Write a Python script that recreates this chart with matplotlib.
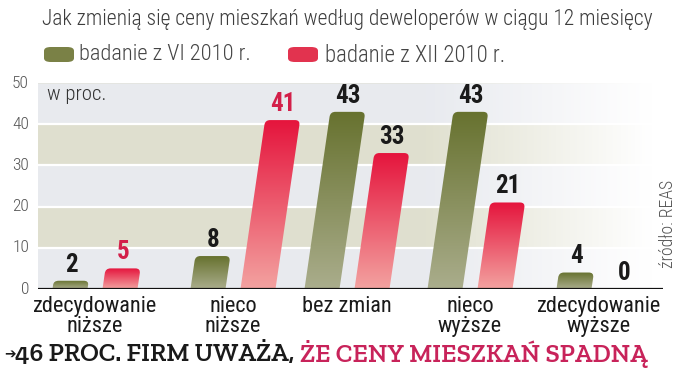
import numpy as np
import matplotlib
matplotlib.use("Agg")
import matplotlib.pyplot as plt
from matplotlib.path import Path
from matplotlib.patches import PathPatch, FancyBboxPatch

# ---------------- data ----------------
categories = ["zdecydowanie\nniższe", "nieco\nniższe", "bez zmian", "nieco\nwyższe", "zdecydowanie\nwyższe"]
series_names = ["badanie z VI 2010 r.", "badanie z XII 2010 r."]
values_jun = [2, 8, 43, 43, 4]
values_dec = [5, 41, 33, 21, 0]
yticks = [0, 10, 20, 30, 40, 50]
title = "Jak zmienią się ceny mieszkań według deweloperów w ciągu 12 miesięcy"
unit_label = "w proc."
source = "źródło: REAS"
foot_black = "46 PROC. FIRM UWAŻA, "
foot_red = "ŻE CENY MIESZKAŃ SPADNĄ"

COND = ["Roboto Condensed", "DejaVu Sans"]
SLAB = ["Zilla Slab", "DejaVu Serif"]

W, H = 686, 381
fig = plt.figure(figsize=(W / 100, H / 100), dpi=100)
fig.patch.set_facecolor("white")
renderer = fig.canvas.get_renderer()

def fx(px):
    return px / W

def fy(py):
    return 1 - py / H

def fit_width(t, target, vertical=False):
    bb = t.get_window_extent(renderer=renderer)
    cur = bb.height if vertical else bb.width
    t.set_fontsize(t.get_fontsize() * target / cur)

ax_l, ax_r, ax_t, ax_b = 38, 663, 83, 289
ax = fig.add_axes([fx(ax_l), fy(ax_b), fx(ax_r - ax_l), (ax_b - ax_t) / H])
XMAX = ax_r - ax_l
ax.set_xlim(0, XMAX)
ax.set_ylim(0, 50)
for s in ax.spines.values():
    s.set_visible(False)
ax.set_xticks([])
ax.set_yticks([])

# background bands fading to white on the right
blue = np.array([0.910, 0.918, 0.937])
olive = np.array([0.878, 0.878, 0.812])
ny, nx = 500, 300
yy = np.linspace(50, 0, ny)
band = (np.floor(yy / 10).astype(int)) % 2
xx = np.linspace(0, 1, nx)
fade = np.clip((xx - 0.62) / 0.36, 0, 1)[None, :, None]
base = np.where(band[:, None, None] == 1, olive, blue)
base = np.broadcast_to(base, (ny, nx, 3))
img = base * (1 - fade) + fade * 1.0
ax.imshow(img, extent=[0, XMAX, 0, 50], aspect="auto", zorder=0, interpolation="bilinear")
for t in yticks[1:-1]:
    ax.axhline(t, color="white", lw=1.6, zorder=1)
ax.axhline(0, color="#111111", lw=1.6, zorder=5)

# bars
px_per_unit = (ax_b - ax_t) / 50.0
group_pos = [57, 195, 309, 432, 561]
offset = 25
bw = 35
slant = 0.6
rad = 5

def bar_path(xc, v):
    h = v
    s = slant * v
    x0, x1 = xc - bw / 2, xc + bw / 2
    r_x = rad
    r_y = min(rad / px_per_unit, h * 0.5)
    verts = [(x0, 0), (x1, 0), (x1 + s * (1 - r_y / h), h - r_y), (x1 + s, h), (x1 + s - r_x, h),
             (x0 + s + r_x, h), (x0 + s, h), (x0 + s * (1 - r_y / h), h - r_y), (x0, 0)]
    codes = [Path.MOVETO, Path.LINETO, Path.LINETO, Path.CURVE3, Path.CURVE3,
             Path.LINETO, Path.CURVE3, Path.CURVE3, Path.CLOSEPOLY]
    return Path(verts, codes)

def grad(top, bottom):
    top = np.array(matplotlib.colors.to_rgb(top))
    bottom = np.array(matplotlib.colors.to_rgb(bottom))
    t = np.linspace(0, 1, 100)[:, None]
    return (top * (1 - t) + bottom * t)[:, None, :]

green_g = grad("#67722f", "#aaad8c")
red_g = grad("#e5153d", "#f3a2a0")

dec_label_colors = ["#d31f49", "#d31f49", "#1a1a1a", "#1a1a1a", "#1a1a1a"]
for i, g in enumerate(group_pos):
    for vals, dx, gg, lc in ((values_jun, -offset, green_g, "#1a1a1a"),
                             (values_dec, offset, red_g, dec_label_colors[i])):
        v = vals[i]
        xc = g + dx
        if v > 0:
            p = bar_path(xc, v)
            patch = PathPatch(p, facecolor="none", edgecolor="none", zorder=3)
            ax.add_patch(patch)
            im = ax.imshow(gg, extent=[xc - bw / 2 - 1, xc + bw / 2 + slant * v + 1, 0, v],
                           aspect="auto", zorder=3, interpolation="bilinear")
            im.set_clip_path(patch)
        ax.text(xc + slant * v, v + 1.0, str(v), ha="center", va="bottom", color=lc, zorder=6,
                family=COND, fontweight="bold", fontsize=18)

ax.set_xlim(0, XMAX)
ax.set_ylim(0, 50)

# y tick labels
for t in yticks:
    fig.text(fx(29), fy(ax_b - t * px_per_unit), str(t), ha="right", va="center",
             fontsize=12.5, color="#555555", family=COND, fontweight="light")

ax.text(9, 47.2, unit_label, ha="left", va="center", fontsize=15, color="#333333",
        family=COND, fontweight="light", zorder=6)

# category labels
for g, c in zip(group_pos, categories):
    fig.text(fx(ax_l + g), fy(296), c, ha="center", va="top", fontsize=16, color="#1a1a1a",
             family=COND, linespacing=0.95)

# title
tt = fig.text(fx(42), fy(19), title, ha="left", va="center", fontsize=15, color="#3c3c3c",
              family=COND, fontweight="light")
fit_width(tt, 613)

# legend
leg = [(44, "#7a8146", series_names[0], 79, 172), (288, "#e2334f", series_names[1], 325, 181)]
for x0, col, lab, tx, tw in leg:
    fig.patches.append(FancyBboxPatch((fx(x0), fy(62)), fx(30), 15 / H,
                                      boxstyle="round,pad=0,rounding_size=0.01",
                                      transform=fig.transFigure, facecolor=col, edgecolor="none"))
    lt = fig.text(fx(tx), fy(55), lab, ha="left", va="center", fontsize=15, color="#444444",
                  family=COND, fontweight="light")
    fit_width(lt, tw)

# source
st = fig.text(fx(668), fy(224), source, rotation=90, ha="center", va="center", fontsize=12,
              color="#555555", family=COND, fontweight="light")
fit_width(st, 88, vertical=True)

# footer
fig.text(fx(4), fy(354), "\u2794", ha="left", va="center", fontsize=10, color="#1a1a1a",
         family="DejaVu Sans")
t1 = fig.text(fx(15), fy(354), foot_black, ha="left", va="center", fontsize=20, color="#1a1a1a",
              family=SLAB, fontweight="semibold")
t2 = fig.text(fx(300), fy(354), foot_red, ha="left", va="center", fontsize=20, color="#c8235a",
              family=SLAB, fontweight="semibold")
w1 = t1.get_window_extent(renderer=renderer).width
w2 = t2.get_window_extent(renderer=renderer).width
k = (646 - 15) / (w1 + w2)
t1.set_fontsize(20 * k)
t2.set_fontsize(20 * k)
w1 = t1.get_window_extent(renderer=renderer).width
t2.set_x(fx(15 + w1))

fig.savefig("out.png", dpi=100, facecolor="white")
